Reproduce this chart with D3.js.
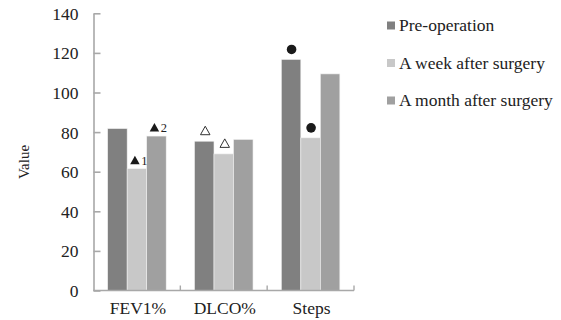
<!DOCTYPE html>
<html><head><meta charset="utf-8">
<script src="https://cdn.jsdelivr.net/npm/d3@7/dist/d3.min.js"></script>
<style>body{margin:0;background:#fff}svg{display:block}text{font-family:"Liberation Serif","Times New Roman",serif;fill:#222}</style>
</head><body><svg id="c" width="561" height="320"></svg>
<script>
const categories = ["FEV1%", "DLCO%", "Steps"];
const seriesNames = ["Pre-operation", "A week after surgery", "A month after surgery"];
const preOperation = [81.8, 75.4, 116.7];
const weekAfter = [61.5, 69.0, 77.1];
const monthAfter = [78.0, 76.3, 109.4];
const yTicks = [0, 20, 40, 60, 80, 100, 120, 140];
const colors = ["#808080", "#c8c8c8", "#a0a0a0"];
// annotations: category index, series index, marker type, superscript label
const annotations = [
  {cat: 0, ser: 1, mark: "tri", label: "1"},
  {cat: 0, ser: 2, mark: "tri", label: "2"},
  {cat: 1, ser: 0, mark: "otri", label: ""},
  {cat: 1, ser: 1, mark: "otri", label: ""},
  {cat: 2, ser: 0, mark: "dot", label: ""},
  {cat: 2, ser: 1, mark: "dot", label: ""}
];
const values = [preOperation, weekAfter, monthAfter];

const svg = d3.select("#c");
const mLeft = 93.5, mRight = 354, mTop = 13.3, mBottom = 290.5;
const x = d3.scaleBand().domain(categories).range([mLeft, mRight]).padding(0);
const xs = d3.scaleBand().domain(d3.range(3)).range([0, x.bandwidth()]).paddingInner(0).paddingOuter(0.725);
const y = d3.scaleLinear().domain([0, 140]).range([mBottom, mTop]);
const axisColor = "#a8a8a8";

// bars
categories.forEach((c, ci) => {
  values.forEach((vals, si) => {
    svg.append("rect")
      .attr("x", x(c) + xs(si))
      .attr("y", y(vals[ci]))
      .attr("width", xs.bandwidth())
      .attr("height", y(0) - y(vals[ci]))
      .attr("fill", colors[si])
      .attr("stroke", "#f2f2f2").attr("stroke-width", 0.6);
  });
});

// y axis
const yAxis = d3.axisLeft(y).tickValues(yTicks).tickSizeInner(-7).tickSizeOuter(0).tickPadding(15);
const gy = svg.append("g").attr("transform", `translate(${mLeft},0)`).call(yAxis);
gy.select(".domain").attr("stroke", axisColor).attr("stroke-width", 1.6);
gy.selectAll(".tick line").attr("stroke", axisColor).attr("stroke-width", 1.6);
gy.selectAll(".tick text").style("font-family", '"Liberation Serif",serif').style("font-size", "17.5px").attr("fill", "#222").attr("dy", "0.34em");

// x axis
const gx = svg.append("g").attr("transform", `translate(0,${mBottom})`);
gx.append("line").attr("x1", mLeft).attr("x2", mRight).attr("stroke", axisColor).attr("stroke-width", 1.6);
const bounds = categories.map(c => x(c)).slice(1).concat([mRight]);
gx.selectAll("line.t").data(bounds).join("line").attr("class", "t")
  .attr("x1", d => d).attr("x2", d => d).attr("y1", 0).attr("y2", -5)
  .attr("stroke", axisColor).attr("stroke-width", 1.4);
gx.selectAll("text").data(categories).join("text")
  .attr("x", d => x(d) + x.bandwidth() / 2 + 1)
  .attr("y", 23.5).attr("text-anchor", "middle")
  .style("font-size", "17.5px").text(d => d);

// y label
svg.append("text").attr("transform", "translate(29,162) rotate(-90)")
  .attr("text-anchor", "middle").style("font-size", "15px").text("Value");

// annotations
annotations.forEach(a => {
  const cx = x(categories[a.cat]) + xs(a.ser) + xs.bandwidth() / 2;
  const topY = y(values[a.ser][a.cat]);
  if (a.mark === "dot") {
    svg.append("circle").attr("cx", cx + 0.5).attr("cy", topY - 10).attr("r", 4.8).attr("fill", "#1a1a1a");
  } else {
    const filled = a.mark === "tri";
    const off = a.label ? -2 : 1;
    const tx = cx + off, base = topY - (filled ? 4.5 : 6.5), h = 8.5, w = 9.5;
    svg.append("path")
      .attr("d", `M${tx - w/2},${base}L${tx + w/2},${base}L${tx},${base - h}Z`)
      .attr("fill", filled ? "#1a1a1a" : "#fff")
      .attr("stroke", filled ? "none" : "#333").attr("stroke-width", 1);
    if (a.label) {
      svg.append("text").attr("x", tx + w/2 + 1.5).attr("y", base + 0.5)
        .style("font-size", "12.5px").text(a.label);
    }
  }
});

// legend
const lg = svg.append("g");
seriesNames.forEach((s, i) => {
  const cy = 25.5 + i * 37.5;
  lg.append("rect").attr("x", 387).attr("y", cy - 4).attr("width", 8).attr("height", 8).attr("fill", colors[i]);
  lg.append("text").attr("x", 399).attr("y", cy + 5.5).style("font-size", "17.5px").text(s);
});
</script></body></html>
